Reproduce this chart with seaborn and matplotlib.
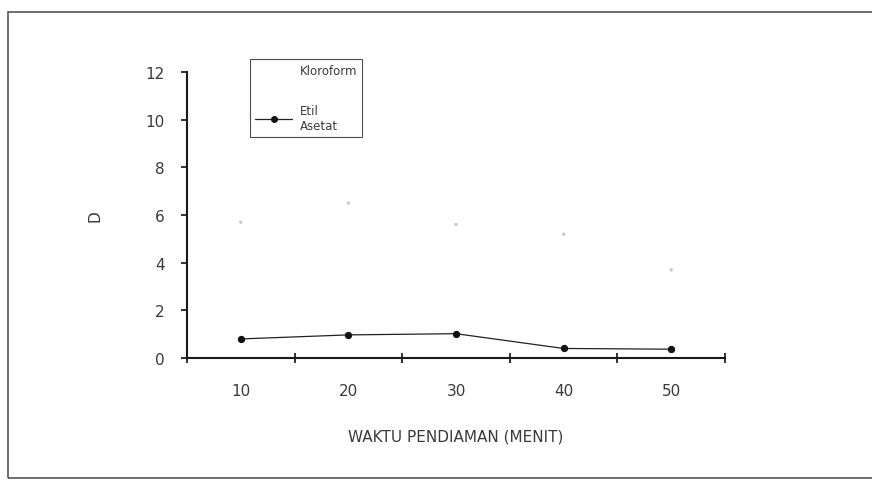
import matplotlib
matplotlib.use("Agg")
import matplotlib.pyplot as plt
import matplotlib.patches as mpatches
from matplotlib.lines import Line2D
import seaborn as sns
import pandas as pd

# Data
waktu = ["10", "20", "30", "40", "50"]
kloroform = [5.7, 6.5, 5.6, 5.2, 3.7]
etil_asetat = [0.8, 0.97, 1.02, 0.4, 0.37]
y_ticks = [0, 2, 4, 6, 8, 10, 12]

sns.set_theme(style="white")
plt.rcParams["font.family"] = ["DejaVu Sans"]

pos = list(range(len(waktu)))
df_k = pd.DataFrame({"pos": pos, "D": kloroform})
df_e = pd.DataFrame({"pos": pos, "D": etil_asetat})

fig = plt.figure(figsize=(8.72, 4.85), dpi=100)
ax = fig.add_axes([187 / 872, 1 - 359 / 485, 538 / 872, 286 / 485])

text_color = "#3a3a3a"

sns.scatterplot(data=df_k, x="pos", y="D", ax=ax, color="#c8c8c8", s=6,
                edgecolor="none", legend=False)
sns.lineplot(data=df_e, x="pos", y="D", ax=ax, color="#222222", linewidth=0.9,
             marker="o", markersize=4.5, markeredgecolor="#111111",
             markerfacecolor="#111111", legend=False)

ax.set_xlim(-0.5, len(waktu) - 0.5)
ax.set_ylim(0, 12)
ax.set_yticks(y_ticks)
ax.set_yticklabels([str(v) for v in y_ticks], color=text_color, fontsize=11)

# category boundaries carry the tick marks, category centres carry the labels
ax.set_xticks([p - 0.5 for p in pos] + [len(waktu) - 0.5])
ax.set_xticklabels([])
ax.set_xticks(pos, minor=True)
ax.set_xticklabels(waktu, minor=True, color=text_color, fontsize=11)
ax.tick_params(axis="x", which="major", bottom=True, direction="inout", length=7,
               width=1.3, color="#222222")
ax.tick_params(axis="x", which="minor", bottom=True, length=0, pad=18)
ax.tick_params(axis="y", which="major", left=True, direction="out", length=4,
               width=1.3, color="#222222", pad=12)

for side in ["top", "right"]:
    ax.spines[side].set_visible(False)
for side in ["left", "bottom"]:
    ax.spines[side].set_color("#1a1a1a")
    ax.spines[side].set_linewidth(1.5)

ax.set_xlabel("WAKTU PENDIAMAN (MENIT)", color=text_color, fontsize=11, labelpad=22)
ax.set_ylabel("D", color=text_color, fontsize=11, labelpad=31)
ax.grid(False)

handles = [
    Line2D([], [], color="white", linewidth=0),
    Line2D([], [], color="#222222", linewidth=0.9, marker="o", markersize=4,
           markerfacecolor="#111111", markeredgecolor="#111111"),
]
leg = ax.legend(handles, ["Kloroform", "Etil\nAsetat"], loc="upper left",
                bbox_to_anchor=(0.117, 1.045), frameon=True, fancybox=False,
                fontsize=8.5, handlelength=3.2, handletextpad=0.6,
                borderpad=0.4, labelspacing=2.3, borderaxespad=0)
leg.get_frame().set_edgecolor("#222222")
leg.get_frame().set_linewidth(0.8)
for t in leg.get_texts():
    t.set_color(text_color)

# outer frame around the chart
frame = mpatches.Rectangle((8 / 872, 1 - 479 / 485), 870 / 872, 466 / 485,
                           transform=fig.transFigure, fill=False,
                           edgecolor="#555555", linewidth=1.2)
fig.patches.append(frame)

fig.savefig("out.png", dpi=100)
